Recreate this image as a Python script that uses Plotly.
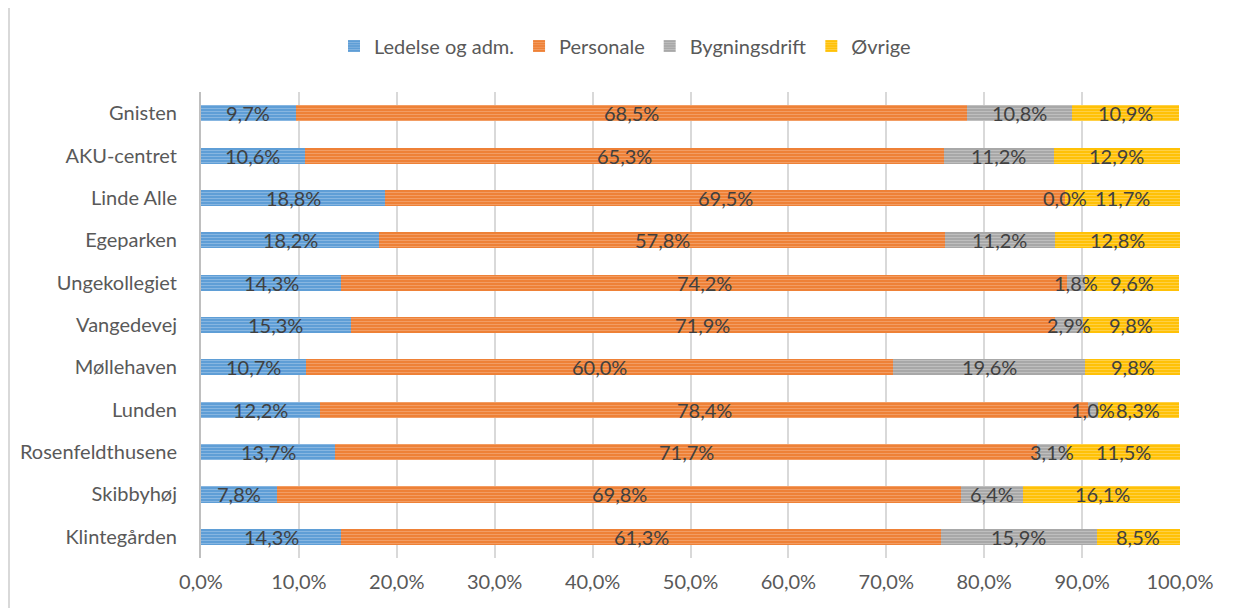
import plotly.graph_objects as go

categories = ["Klintegården", "Skibbyhøj", "Rosenfeldthusene", "Lunden", "Møllehaven",
              "Vangedevej", "Ungekollegiet", "Egeparken", "Linde Alle", "AKU-centret", "Gnisten"]
series_names = ["Ledelse og adm.", "Personale", "Bygningsdrift", "Øvrige"]
ledelse = [14.3, 7.8, 13.7, 12.2, 10.7, 15.3, 14.3, 18.2, 18.8, 10.6, 9.7]
personale = [61.3, 69.8, 71.7, 78.4, 60.0, 71.9, 74.2, 57.8, 69.5, 65.3, 68.5]
bygning = [15.9, 6.4, 3.1, 1.0, 19.6, 2.9, 1.8, 11.2, 0.0, 11.2, 10.8]
ovrige = [8.5, 16.1, 11.5, 8.3, 9.8, 9.8, 9.6, 12.8, 11.7, 12.9, 10.9]
tick_vals = [0, 10, 20, 30, 40, 50, 60, 70, 80, 90, 100]

colors = ["#5B9BD5", "#ED7D31", "#A5A5A5", "#FFC000"]
light = ["#B4D1EE", "#F7BD98", "#DADADA", "#FFE08A"]
series = [ledelse, personale, bygning, ovrige]


def pct(v):
    return f"{v:.1f}".replace(".", ",") + "%"


FONT = "Lato"
SIZE = 20
fig = go.Figure()
for name, vals, c, lc in zip(series_names, series, colors, light):
    fig.add_trace(go.Bar(
        y=categories, x=vals, name=name, orientation="h",
        marker=dict(color=c, line=dict(width=0),
                    pattern=dict(shape="-", fgcolor=lc, bgcolor=c, size=3, solidity=0.4)),
        hoverinfo="x+y+name",
    ))

annotations = []
for i, cat in enumerate(categories):
    start = 0.0
    for vals in series:
        v = vals[i]
        annotations.append(dict(
            x=start + v / 2, y=cat, xref="x", yref="y",
            text=pct(v), showarrow=False,
            font=dict(family=FONT, size=SIZE, color="#404040"),
        ))
        start += v

L, R, T, B = 193, 62, 84, 58
plot_w = 1234 - L - R
fig.update_layout(
    barmode="stack", bargap=0.62,
    width=1234, height=608,
    margin=dict(l=L, r=R, t=T, b=B, autoexpand=False),
    paper_bgcolor="white", plot_bgcolor="white",
    font=dict(family=FONT, size=SIZE, color="#595959"),
    legend=dict(orientation="h", x=0.5, xanchor="center", xref="container",
                y=1 - 38 / 608, yanchor="middle", yref="container",
                font=dict(size=SIZE, color="#595959"),
                traceorder="normal", itemwidth=30),
    annotations=annotations,
    shapes=[dict(type="line", xref="paper", yref="paper", x0=-(L - 1) / plot_w, x1=-(L - 1) / plot_w,
                 y0=-0.2, y1=1.3, line=dict(color="#D9D9D9", width=2))],
    showlegend=True,
)
fig.update_xaxes(range=[0, 100], tickvals=tick_vals, ticktext=[pct(t) for t in tick_vals],
                 showgrid=True, gridcolor="#D9D9D9", gridwidth=1.5, zeroline=False,
                 showline=False, ticks="", tickfont=dict(size=SIZE, color="#595959"),
                 ticklabelstandoff=10, automargin=False, fixedrange=True)
fig.update_yaxes(showline=True, linecolor="#BFBFBF", linewidth=2, ticks="",
                 ticklabelstandoff=18, tickfont=dict(size=SIZE, color="#595959"),
                 range=[-0.5, 10.5], automargin=False, fixedrange=True)
fig.write_html("out.html")
